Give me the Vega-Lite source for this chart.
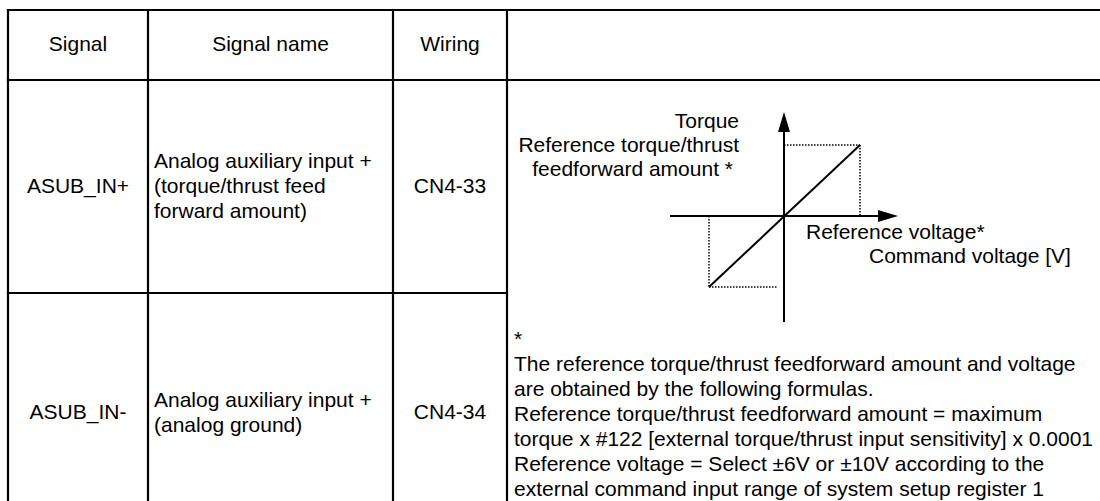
{
  "$schema": "https://vega.github.io/schema/vega-lite/v6.json",
  "width": 1100,
  "height": 501,
  "autosize": "none",
  "padding": 0,
  "background": "white",
  "config": {"view": {"stroke": null}},
  "datasets": {
    "grid": [
      {"x": 8, "x2": 1100, "y": 10, "y2": 10},
      {"x": 8, "x2": 1100, "y": 80, "y2": 80},
      {"x": 8, "x2": 507, "y": 293, "y2": 293},
      {"x": 8, "x2": 8, "y": 10, "y2": 501},
      {"x": 148, "x2": 148, "y": 10, "y2": 501},
      {"x": 393, "x2": 393, "y": 10, "y2": 501},
      {"x": 507, "x2": 507, "y": 10, "y2": 501}
    ],
    "solid": [
      {"x": 784, "x2": 784, "y": 322, "y2": 128},
      {"x": 670, "x2": 882, "y": 216, "y2": 216},
      {"x": 709, "x2": 860, "y": 287, "y2": 145}
    ],
    "dotted": [
      {"x": 784, "x2": 860, "y": 145, "y2": 145},
      {"x": 860, "x2": 860, "y": 145, "y2": 216},
      {"x": 709, "x2": 709, "y": 216, "y2": 287},
      {"x": 709, "x2": 778, "y": 287, "y2": 287}
    ],
    "arrows": [
      {"x": 784, "y": 122, "dir": "up"},
      {"x": 888, "y": 216, "dir": "right"}
    ],
    "texts": [
      {"x": 78, "y": 45, "t": "Signal", "a": "center"},
      {"x": 270.5, "y": 45, "t": "Signal name", "a": "center"},
      {"x": 450, "y": 45, "t": "Wiring", "a": "center"},
      {"x": 78, "y": 187, "t": "ASUB_IN+", "a": "center"},
      {"x": 450, "y": 187, "t": "CN4-33", "a": "center"},
      {"x": 78, "y": 413, "t": "ASUB_IN-", "a": "center"},
      {"x": 450, "y": 413, "t": "CN4-34", "a": "center"},
      {"x": 154, "y": 162, "t": "Analog auxiliary input +", "a": "left"},
      {"x": 154, "y": 187, "t": "(torque/thrust feed", "a": "left"},
      {"x": 154, "y": 212, "t": "forward amount)", "a": "left"},
      {"x": 154, "y": 401, "t": "Analog auxiliary input +", "a": "left"},
      {"x": 154, "y": 426, "t": "(analog ground)", "a": "left"},
      {"x": 806, "y": 233, "t": "Reference voltage*", "a": "left"},
      {"x": 869, "y": 257, "t": "Command voltage [V]", "a": "left"},
      {"x": 514, "y": 340, "t": "*", "a": "left"},
      {"x": 514, "y": 365, "t": "The reference torque/thrust feedforward amount and voltage", "a": "left"},
      {"x": 514, "y": 390, "t": "are obtained by the following formulas.", "a": "left"},
      {"x": 514, "y": 415, "t": "Reference torque/thrust feedforward amount = maximum", "a": "left"},
      {"x": 514, "y": 440, "t": "torque x #122 [external torque/thrust input sensitivity] x 0.0001", "a": "left"},
      {"x": 514, "y": 465, "t": "Reference voltage = Select ±6V or ±10V according to the", "a": "left"},
      {"x": 514, "y": 490, "t": "external command input range of system setup register 1", "a": "left"},
      {"x": 739, "y": 122, "t": "Torque", "a": "right"},
      {"x": 739, "y": 146, "t": "Reference torque/thrust", "a": "right"},
      {"x": 733, "y": 170, "t": "feedforward amount *", "a": "right"}
    ]
  },
  "layer": [
    {
      "data": {"name": "grid"},
      "mark": {"type": "rule", "color": "black", "strokeWidth": 2.2, "strokeCap": "square"},
      "encoding": {
        "x": {"field": "x", "type": "quantitative", "scale": {"domain": [0, 1100], "nice": false, "zero": false}, "axis": null},
        "x2": {"field": "x2"},
        "y": {"field": "y", "type": "quantitative", "scale": {"domain": [0, 501], "nice": false, "zero": false, "reverse": true}, "axis": null},
        "y2": {"field": "y2"}
      }
    },
    {
      "data": {"name": "solid"},
      "mark": {"type": "rule", "color": "black", "strokeWidth": 2},
      "encoding": {
        "x": {"field": "x", "type": "quantitative", "axis": null},
        "x2": {"field": "x2"},
        "y": {"field": "y", "type": "quantitative", "axis": null},
        "y2": {"field": "y2"}
      }
    },
    {
      "data": {"name": "dotted"},
      "mark": {"type": "rule", "color": "black", "strokeWidth": 1.5, "strokeDash": [1.5, 1.5]},
      "encoding": {
        "x": {"field": "x", "type": "quantitative", "axis": null},
        "x2": {"field": "x2"},
        "y": {"field": "y", "type": "quantitative", "axis": null},
        "y2": {"field": "y2"}
      }
    },
    {
      "data": {"name": "arrows"},
      "mark": {"type": "point", "filled": true, "color": "black", "opacity": 1, "size": 400, "strokeWidth": 0},
      "encoding": {
        "x": {"field": "x", "type": "quantitative", "axis": null},
        "y": {"field": "y", "type": "quantitative", "axis": null},
        "shape": {"field": "dir", "type": "nominal", "legend": null, "scale": {"domain": ["up", "right"], "range": ["M0,-1L0.6,1L-0.6,1Z", "M1,0L-1,0.6L-1,-0.6Z"]}}
      }
    },
    {
      "data": {"name": "texts"},
      "transform": [{"filter": "datum.a === 'center'"}],
      "mark": {"type": "text", "align": "center", "baseline": "middle", "font": "Liberation Sans", "fontSize": 21, "color": "black"},
      "encoding": {
        "x": {"field": "x", "type": "quantitative", "axis": null},
        "y": {"field": "y", "type": "quantitative", "axis": null},
        "text": {"field": "t"}
      }
    },
    {
      "data": {"name": "texts"},
      "transform": [{"filter": "datum.a === 'left'"}],
      "mark": {"type": "text", "align": "left", "baseline": "middle", "font": "Liberation Sans", "fontSize": 21, "color": "black"},
      "encoding": {
        "x": {"field": "x", "type": "quantitative", "axis": null},
        "y": {"field": "y", "type": "quantitative", "axis": null},
        "text": {"field": "t"}
      }
    },
    {
      "data": {"name": "texts"},
      "transform": [{"filter": "datum.a === 'right'"}],
      "mark": {"type": "text", "align": "right", "baseline": "middle", "font": "Liberation Sans", "fontSize": 21, "color": "black"},
      "encoding": {
        "x": {"field": "x", "type": "quantitative", "axis": null},
        "y": {"field": "y", "type": "quantitative", "axis": null},
        "text": {"field": "t"}
      }
    }
  ]
}
